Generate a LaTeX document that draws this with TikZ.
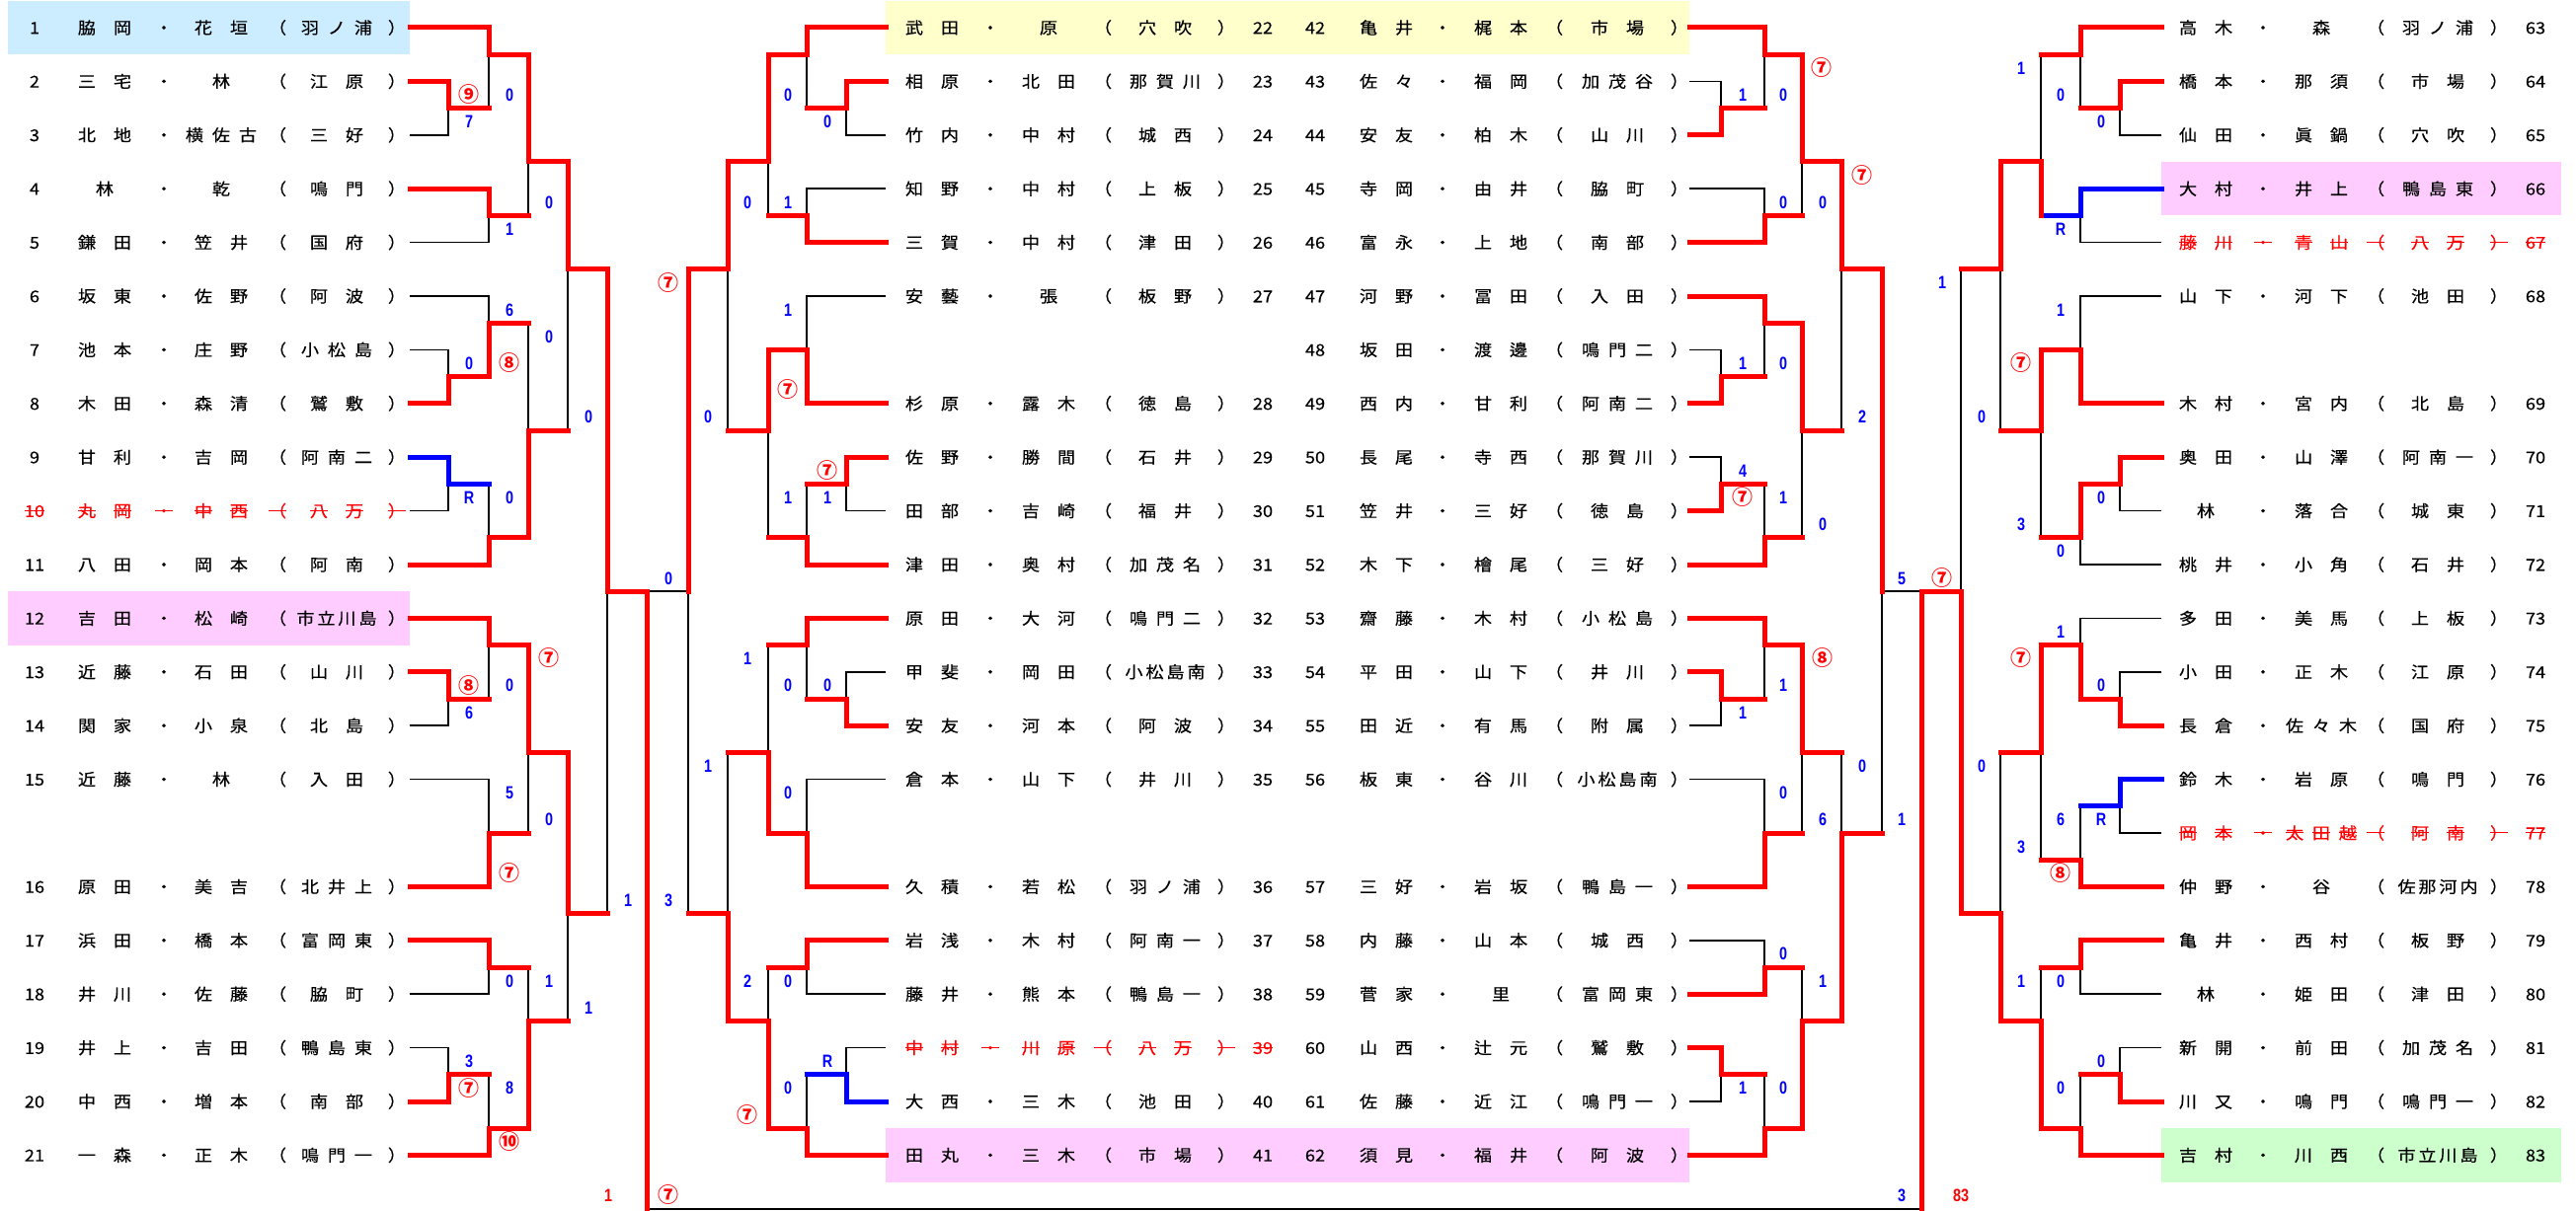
\documentclass[tikz,border=0pt]{standalone}
\usepackage{fontspec}
\setmainfont{Noto Sans CJK JP}[FakeStretch=1.1, FakeBold=0.3]
\newfontfamily\scfont{Liberation Sans}[FakeStretch=0.8]
\newfontfamily\cirfont{Noto Sans CJK JP}
\usepackage{xcolor}
\definecolor{winred}{RGB}{255, 0, 0}
\definecolor{scoreblue}{RGB}{0, 0, 255}
\definecolor{hlblue}{RGB}{204, 236, 255}
\definecolor{hlyellow}{RGB}{255, 255, 204}
\definecolor{hlpink}{RGB}{255, 204, 255}
\definecolor{hlgreen}{RGB}{204, 255, 204}

% spread the characters of a field over fixed slots
\newcount\nch
\newdimen\pitch
\def\cntch#1{\ifx#1\relax\else\advance\nch by 1 \expandafter\cntch\fi}
\def\putch#1{\ifx#1\relax\else\makebox[\pitch]{\chr{#1}}\expandafter\putch\fi}
\newcommand\fld[1]{\nch=0 \cntch#1\relax
  \ifcase\nch \or\pitch=36pt \or\pitch=36pt \or\pitch=27pt \else\pitch=21pt \fi
  \putch#1\relax}
\newcommand\plainch[1]{#1}
\newcommand\strikech[1]{\setbox0\hbox{#1}\rlap{\rule[.36em]{\wd0}{1.3pt}}\box0}
\let\chr\plainch

% one row: slot, number, name 1, name 2, school
\newcommand\setcols[7]{\def\xnum{#1}\def\xna{#2}\def\xdot{#3}\def\xnb{#4}\def\xlp{#5}\def\xsch{#6}\def\xrp{#7}}
\newcommand\duo[5]{%
  \node[txt] (n#2) at (\xnum,#1) {\chr{#2}};
  \node[txt] (a#2) at (\xna,#1) {\fld{#3}};
  \node[txt] (d#2) at (\xdot,#1) {\chr{・}};
  \node[txt] (b#2) at (\xnb,#1) {\fld{#4}};
  \node[txt] (l#2) at (\xlp,#1) {\chr{（}};
  \node[txt] (s#2) at (\xsch,#1) {\fld{#5}};
  \node[txt] (r#2) at (\xrp,#1) {\chr{）}};
}
\newcommand\gone[5]{\begin{scope}[txt/.append style={text=winred}]
  \let\chr\strikech\duo{#1}{#2}{#3}{#4}{#5}\end{scope}}

\tikzset{
  txt/.style={inner sep=0pt, font=\fontsize{16.5}{18}\selectfont, text height=14.5pt, text depth=2pt},
  sc/.style={inner sep=0pt, text=scoreblue, font=\scfont\bfseries\fontsize{18}{18}\selectfont, text height=13pt, text depth=0pt},
  wn/.style={sc, text=winred},
  wc/.style={inner sep=0pt, text=winred, font=\cirfont\bfseries\fontsize{21}{21}\selectfont, text height=15.5pt, text depth=0pt},
  win/.style={draw=winred, line width=5pt, line cap=rect},
  walk/.style={draw=scoreblue, line width=5pt, line cap=rect},
  lose/.style={draw=black, line width=1.6pt},
}

\begin{document}
\begin{tikzpicture}[x=1pt, y=-54.4pt, yshift=-28pt]
\useasboundingbox (0,-0.5147) rectangle (2609,22.0404);
\fill[white] (0,-0.5147) rectangle (2609,22.0404);

% highlighted rows
\fill[hlblue] (8,-0.5) rectangle (415,0.5);
\fill[hlpink] (8,10.5) rectangle (415,11.5);
\fill[hlyellow] (897,-0.5) rectangle (1711,0.5);
\fill[hlpink] (897,20.5) rectangle (1711,21.5);
\fill[hlpink] (2189,2.5) rectangle (2594,3.5);
\fill[hlgreen] (2189,20.5) rectangle (2594,21.5);

% left block
\setcols{35}{106}{166}{224}{281}{341}{402}
\duo{0}{1}{脇岡}{花垣}{羽ノ浦}
\duo{1}{2}{三宅}{林}{江原}
\duo{2}{3}{北地}{横佐古}{三好}
\duo{3}{4}{林}{乾}{鳴門}
\duo{4}{5}{鎌田}{笠井}{国府}
\duo{5}{6}{坂東}{佐野}{阿波}
\duo{6}{7}{池本}{庄野}{小松島}
\duo{7}{8}{木田}{森清}{鷲敷}
\duo{8}{9}{甘利}{吉岡}{阿南二}
\gone{9}{10}{丸岡}{中西}{八万}
\duo{10}{11}{八田}{岡本}{阿南}
\duo{11}{12}{吉田}{松崎}{市立川島}
\duo{12}{13}{近藤}{石田}{山川}
\duo{13}{14}{関家}{小泉}{北島}
\duo{14}{15}{近藤}{林}{入田}
\duo{16}{16}{原田}{美吉}{北井上}
\duo{17}{17}{浜田}{橋本}{富岡東}
\duo{18}{18}{井川}{佐藤}{脇町}
\duo{19}{19}{井上}{吉田}{鴨島東}
\duo{20}{20}{中西}{増本}{南部}
\duo{21}{21}{一森}{正木}{鳴門一}

% centre left block
\setcols{1279}{944}{1003}{1062}{1117}{1180}{1242}
\duo{0}{22}{武田}{原}{穴吹}
\duo{1}{23}{相原}{北田}{那賀川}
\duo{2}{24}{竹内}{中村}{城西}
\duo{3}{25}{知野}{中村}{上板}
\duo{4}{26}{三賀}{中村}{津田}
\duo{5}{27}{安藝}{張}{板野}
\duo{7}{28}{杉原}{露木}{徳島}
\duo{8}{29}{佐野}{勝間}{石井}
\duo{9}{30}{田部}{吉崎}{福井}
\duo{10}{31}{津田}{奥村}{加茂名}
\duo{11}{32}{原田}{大河}{鳴門二}
\duo{12}{33}{甲斐}{岡田}{小松島南}
\duo{13}{34}{安友}{河本}{阿波}
\duo{14}{35}{倉本}{山下}{井川}
\duo{16}{36}{久積}{若松}{羽ノ浦}
\duo{17}{37}{岩浅}{木村}{阿南一}
\duo{18}{38}{藤井}{熊本}{鴨島一}
\gone{19}{39}{中村}{川原}{八万}
\duo{20}{40}{大西}{三木}{池田}
\duo{21}{41}{田丸}{三木}{市場}

% centre right block
\setcols{1332}{1404}{1461}{1520}{1574}{1638}{1701}
\duo{0}{42}{亀井}{梶本}{市場}
\duo{1}{43}{佐々}{福岡}{加茂谷}
\duo{2}{44}{安友}{柏木}{山川}
\duo{3}{45}{寺岡}{由井}{脇町}
\duo{4}{46}{富永}{上地}{南部}
\duo{5}{47}{河野}{冨田}{入田}
\duo{6}{48}{坂田}{渡邊}{鳴門二}
\duo{7}{49}{西内}{甘利}{阿南二}
\duo{8}{50}{長尾}{寺西}{那賀川}
\duo{9}{51}{笠井}{三好}{徳島}
\duo{10}{52}{木下}{檜尾}{三好}
\duo{11}{53}{齋藤}{木村}{小松島}
\duo{12}{54}{平田}{山下}{井川}
\duo{13}{55}{田近}{有馬}{附属}
\duo{14}{56}{板東}{谷川}{小松島南}
\duo{16}{57}{三好}{岩坂}{鴨島一}
\duo{17}{58}{内藤}{山本}{城西}
\duo{18}{59}{菅家}{里}{富岡東}
\duo{19}{60}{山西}{辻元}{鷲敷}
\duo{20}{61}{佐藤}{近江}{鳴門一}
\duo{21}{62}{須見}{福井}{阿波}

% right block
\setcols{2568}{2234}{2292}{2351}{2406}{2469}{2531}
\duo{0}{63}{高木}{森}{羽ノ浦}
\duo{1}{64}{橋本}{那須}{市場}
\duo{2}{65}{仙田}{眞鍋}{穴吹}
\duo{3}{66}{大村}{井上}{鴨島東}
\gone{4}{67}{藤川}{青山}{八万}
\duo{5}{68}{山下}{河下}{池田}
\duo{7}{69}{木村}{宮内}{北島}
\duo{8}{70}{奥田}{山澤}{阿南一}
\duo{9}{71}{林}{落合}{城東}
\duo{10}{72}{桃井}{小角}{石井}
\duo{11}{73}{多田}{美馬}{上板}
\duo{12}{74}{小田}{正木}{江原}
\duo{13}{75}{長倉}{佐々木}{国府}
\duo{14}{76}{鈴木}{岩原}{鳴門}
\gone{15}{77}{岡本}{太田越}{阿南}
\duo{16}{78}{仲野}{谷}{佐那河内}
\duo{17}{79}{亀井}{西村}{板野}
\duo{18}{80}{林}{姫田}{津田}
\duo{19}{81}{新開}{前田}{加茂名}
\duo{20}{82}{川又}{鳴門}{鳴門一}
\duo{21}{83}{吉村}{川西}{市立川島}

% losing lines
\draw[lose] (495,1.5) -- (495,0.5);
\draw[lose] (415,2) -| (454,1.5);
\draw[lose] (535,3.5) -- (535,2.5);
\draw[lose] (415,4) -| (495,3.5);
\draw[lose] (415,5) -| (495,5.5);
\draw[lose] (415,6) -| (454,6.5);
\draw[lose] (535,5.5) -- (535,7.5);
\draw[lose] (495,8.5) -- (495,9.5);
\draw[lose] (415,9) -| (454,8.5);
\draw[lose] (575,7.5) -- (575,4.5);
\draw[lose] (615,16.5) -- (615,10.5);
\draw[lose] (495,12.5) -- (495,11.5);
\draw[lose] (415,13) -| (454,12.5);
\draw[lose] (415,14) -| (495,15);
\draw[lose] (535,15) -- (535,13.5);
\draw[lose] (535,17.5) -- (535,18.5);
\draw[lose] (415,18) -| (495,17.5);
\draw[lose] (415,19) -| (454,19.5);
\draw[lose] (495,19.5) -- (495,20.5);
\draw[lose] (575,18.5) -- (575,16.5);
\draw[lose] (697,10.5) -- (655,10.5);
\draw[lose] (817,1.5) -- (817,0.5);
\draw[lose] (897,2) -| (857,1.5);
\draw[lose] (897,3) -| (817,3.5);
\draw[lose] (778,3.5) -- (778,2.5);
\draw[lose] (897,5) -| (817,6);
\draw[lose] (737,7.5) -- (737,4.5);
\draw[lose] (817,8.5) -- (817,9.5);
\draw[lose] (897,9) -| (857,8.5);
\draw[lose] (778,9.5) -- (778,7.5);
\draw[lose] (778,11.5) -- (778,13.5);
\draw[lose] (897,12) -| (857,12.5);
\draw[lose] (817,12.5) -- (817,11.5);
\draw[lose] (897,14) -| (817,15);
\draw[lose] (737,13.5) -- (737,16.5);
\draw[lose] (778,17.5) -- (778,18.5);
\draw[lose] (897,18) -| (817,17.5);
\draw[lose] (897,19) -| (857,19.5);
\draw[lose] (817,19.5) -- (817,20.5);
\draw[lose] (697,16.5) -- (697,10.5);
\draw[lose] (1906,10.5) -- (1946,10.5);
\draw[lose] (1711,1) -| (1743,1.5);
\draw[lose] (1787,1.5) -- (1787,0.5);
\draw[lose] (1711,3) -| (1787,3.5);
\draw[lose] (1825,3.5) -- (1825,2.5);
\draw[lose] (1865,7.5) -- (1865,4.5);
\draw[lose] (1711,6) -| (1743,6.5);
\draw[lose] (1787,6.5) -- (1787,5.5);
\draw[lose] (1711,8) -| (1743,8.5);
\draw[lose] (1787,8.5) -- (1787,9.5);
\draw[lose] (1825,9.5) -- (1825,7.5);
\draw[lose] (1865,13.5) -- (1865,15);
\draw[lose] (1787,12.5) -- (1787,11.5);
\draw[lose] (1711,13) -| (1743,12.5);
\draw[lose] (1711,14) -| (1787,15);
\draw[lose] (1825,15) -- (1825,13.5);
\draw[lose] (1711,17) -| (1787,17.5);
\draw[lose] (1825,17.5) -- (1825,18.5);
\draw[lose] (1787,19.5) -- (1787,20.5);
\draw[lose] (1711,20) -| (1743,19.5);
\draw[lose] (1906,15) -- (1906,10.5);
\draw[lose] (2067,0.5) -- (2067,2.5);
\draw[lose] (2107,1.5) -- (2107,0.5);
\draw[lose] (2189,2) -| (2147,1.5);
\draw[lose] (1986,4.5) -- (1986,10.5);
\draw[lose] (2189,4) -| (2107,3.5);
\draw[lose] (2189,5) -| (2107,6);
\draw[lose] (2026,7.5) -- (2026,4.5);
\draw[lose] (2067,9.5) -- (2067,7.5);
\draw[lose] (2189,9) -| (2147,8.5);
\draw[lose] (2189,10) -| (2107,9.5);
\draw[lose] (2189,11) -| (2107,11.5);
\draw[lose] (2189,12) -| (2147,12.5);
\draw[lose] (2026,13.5) -- (2026,16.5);
\draw[lose] (2107,14.5) -- (2107,15.5);
\draw[lose] (2189,15) -| (2147,14.5);
\draw[lose] (2067,15.5) -- (2067,13.5);
\draw[lose] (2067,17.5) -- (2067,18.5);
\draw[lose] (2189,18) -| (2107,17.5);
\draw[lose] (2189,19) -| (2147,19.5);
\draw[lose] (2107,19.5) -- (2107,20.5);
\draw[lose] (655,22) -- (1946,22);

% winning lines
\draw[win] (415,0) -| (495,0.5) -| (535,2.5) -| (575,4.5) -| (615,10.5) -| (655,22);
\draw[win] (415,1) -| (454,1.5) -- (495,1.5);
\draw[win] (415,3) -| (495,3.5) -- (535,3.5);
\draw[win] (415,7) -| (454,6.5) -| (495,5.5) -- (535,5.5);
\draw[walk] (415,8) -| (454,8.5) -- (495,8.5);
\draw[win] (415,10) -| (495,9.5) -| (535,7.5) -- (575,7.5);
\draw[win] (415,11) -| (495,11.5) -| (535,13.5) -| (575,16.5) -- (615,16.5);
\draw[win] (415,12) -| (454,12.5) -- (495,12.5);
\draw[win] (415,16) -| (495,15) -- (535,15);
\draw[win] (415,17) -| (495,17.5) -- (535,17.5);
\draw[win] (415,20) -| (454,19.5) -- (495,19.5);
\draw[win] (415,21) -| (495,20.5) -| (535,18.5) -- (575,18.5);
\draw[win] (897,0) -| (817,0.5) -| (778,2.5) -| (737,4.5) -| (697,10.5);
\draw[win] (897,1) -| (857,1.5) -- (817,1.5);
\draw[win] (897,4) -| (817,3.5) -- (778,3.5);
\draw[win] (897,7) -| (817,6) -| (778,7.5) -- (737,7.5);
\draw[win] (897,8) -| (857,8.5) -- (817,8.5);
\draw[win] (897,10) -| (817,9.5) -- (778,9.5);
\draw[win] (897,11) -| (817,11.5) -- (778,11.5);
\draw[win] (897,13) -| (857,12.5) -- (817,12.5);
\draw[win] (897,16) -| (817,15) -| (778,13.5) -- (737,13.5);
\draw[win] (897,17) -| (817,17.5) -- (778,17.5);
\draw[walk] (897,20) -| (857,19.5) -- (817,19.5);
\draw[win] (897,21) -| (817,20.5) -| (778,18.5) -| (737,16.5) -- (697,16.5);
\draw[win] (1711,0) -| (1787,0.5) -| (1825,2.5) -| (1865,4.5) -| (1906,10.5);
\draw[win] (1711,2) -| (1743,1.5) -- (1787,1.5);
\draw[win] (1711,4) -| (1787,3.5) -- (1825,3.5);
\draw[win] (1711,5) -| (1787,5.5) -| (1825,7.5) -- (1865,7.5);
\draw[win] (1711,7) -| (1743,6.5) -- (1787,6.5);
\draw[win] (1711,9) -| (1743,8.5) -- (1787,8.5);
\draw[win] (1711,10) -| (1787,9.5) -- (1825,9.5);
\draw[win] (1711,11) -| (1787,11.5) -| (1825,13.5) -- (1865,13.5);
\draw[win] (1711,12) -| (1743,12.5) -- (1787,12.5);
\draw[win] (1711,16) -| (1787,15) -- (1825,15);
\draw[win] (1711,18) -| (1787,17.5) -- (1825,17.5);
\draw[win] (1711,19) -| (1743,19.5) -- (1787,19.5);
\draw[win] (1711,21) -| (1787,20.5) -| (1825,18.5) -| (1865,15) -- (1906,15);
\draw[win] (2189,0) -| (2107,0.5) -- (2067,0.5);
\draw[win] (2189,1) -| (2147,1.5) -- (2107,1.5);
\draw[walk] (2189,3) -| (2107,3.5) -- (2067,3.5);
\draw[win] (2067,3.5) -- (2067,2.5) -| (2026,4.5) -- (1986,4.5);
\draw[win] (2189,7) -| (2107,6) -| (2067,7.5) -- (2026,7.5);
\draw[win] (2189,8) -| (2147,8.5) -| (2107,9.5) -- (2067,9.5);
\draw[win] (2189,13) -| (2147,12.5) -| (2107,11.5) -| (2067,13.5) -- (2026,13.5);
\draw[walk] (2189,14) -| (2147,14.5) -- (2107,14.5);
\draw[win] (2189,16) -| (2107,15.5) -- (2067,15.5);
\draw[win] (2189,17) -| (2107,17.5) -- (2067,17.5);
\draw[win] (2189,20) -| (2147,19.5) -- (2107,19.5);
\draw[win] (2189,21) -| (2107,20.5) -| (2067,18.5) -| (2026,16.5) -| (1986,10.5) -| (1946,22);

% scores
\foreach \x/\y/\v [count=\i] in {516/1.25/0, 475/1.75/7, 556/3.25/0, 516/3.75/1, 516/5.25/6,
  556/5.75/0, 475/6.25/0, 596/7.25/0, 475/8.75/R, 516/8.75/0, 677/10.25/0, 516/12.25/0,
  475/12.75/6, 516/14.25/5, 556/14.75/0, 636/16.25/1, 677/16.25/3, 516/17.75/0, 556/17.75/1,
  596/18.25/1, 475/19.25/3, 516/19.75/8,
  798/1.25/0, 838/1.75/0, 757/3.25/0, 798/3.25/1, 798/5.25/1, 717/7.25/0, 798/8.75/1,
  838/8.75/1, 757/11.75/1, 798/12.25/0, 838/12.25/0, 717/13.75/1, 798/14.25/0, 757/17.75/2,
  798/17.75/0, 838/19.25/R, 798/19.75/0,
  1765/1.25/1, 1806/1.25/0, 1806/3.25/0, 1846/3.25/0, 1765/6.25/1, 1806/6.25/0, 1886/7.25/2,
  1765/8.25/4, 1806/8.75/1, 1846/9.25/0, 1926/10.25/5, 1806/12.25/1, 1765/12.75/1,
  1886/13.75/0, 1806/14.25/0, 1846/14.75/6, 1926/14.75/1, 1806/17.25/0, 1846/17.75/1,
  1765/19.75/1, 1806/19.75/0, 1926/21.75/3,
  2047/0.75/1, 2087/1.25/0, 2128/1.75/0, 2087/3.75/R, 1967/4.75/1, 2087/5.25/1, 2007/7.25/0,
  2128/8.75/0, 2047/9.25/3, 2087/9.75/0, 2087/11.25/1, 2128/12.25/0, 2007/13.75/0,
  2087/14.75/6, 2128/14.75/R, 2047/15.25/3, 2047/17.75/1, 2087/17.75/0, 2128/19.25/0,
  2087/19.75/0}
  \node[sc] (sc\i) at (\x,\y) {\v};
\foreach \x/\y/\v [count=\i] in {475/1.25/⑨, 677/4.75/⑦, 516/6.25/⑧, 556/11.75/⑦,
  475/12.25/⑧, 516/15.75/⑦, 475/19.75/⑦, 516/20.75/⑩, 677/21.75/⑦, 798/6.75/⑦,
  838/8.25/⑦, 757/20.25/⑦, 1845/0.75/⑦, 1886/2.75/⑦, 1765/8.75/⑦, 1967/10.25/⑦,
  1846/11.75/⑧, 2047/6.25/⑦, 2047/11.75/⑦, 2087/15.75/⑧}
  \node[wc] (wc\i) at (\x,\y) {\v};
\node[wn] (fin1) at (616,21.75) {1};
\node[wn] (fin83) at (1986,21.75) {83};
\end{tikzpicture}
\end{document}
